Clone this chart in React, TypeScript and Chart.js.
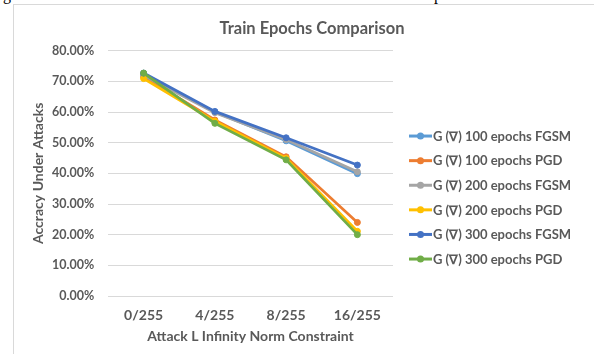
import React, { useEffect, useRef } from "react";
import { Chart, registerables, layouts } from "chart.js";

Chart.register(...registerables);

const categories = ["0/255", "4/255", "8/255", "16/255"];
const seriesLabels = [
  "G (∇) 100 epochs FGSM",
  "G (∇) 100 epochs PGD",
  "G (∇) 200 epochs FGSM",
  "G (∇) 200 epochs PGD",
  "G (∇) 300 epochs FGSM",
  "G (∇) 300 epochs PGD",
];
const seriesColors = ["#5B9BD5", "#ED7D31", "#A5A5A5", "#FFC000", "#4472C4", "#70AD47"];
const g100Fgsm = [72.2, 60.0, 50.6, 39.9];
const g100Pgd = [71.5, 57.4, 45.4, 24.0];
const g200Fgsm = [71.9, 59.8, 51.0, 40.5];
const g200Pgd = [70.9, 57.0, 44.9, 21.1];
const g300Fgsm = [72.7, 60.2, 51.6, 42.7];
const g300Pgd = [72.7, 56.3, 44.4, 20.0];
const seriesValues = [g100Fgsm, g100Pgd, g200Fgsm, g200Pgd, g300Fgsm, g300Pgd];
const yMin = 0;
const yMax = 80;
const yStep = 10;

const TEXT = "#595959";
const FONT = "Lato, 'Liberation Sans', sans-serif";

const excelLegend = {
  id: "excelLegend",
  start(chart: any, _args: any, opts: any) {
    const box: any = {
      position: "right",
      weight: 1000,
      fullSize: false,
      options: { stack: undefined, stackWeight: 1 },
      left: 0,
      top: 0,
      right: 0,
      bottom: 0,
      width: 0,
      height: 0,
      isHorizontal() {
        return false;
      },
      update(_maxWidth: number, maxHeight: number) {
        box.width = opts.boxWidth;
        box.height = maxHeight;
      },
      draw() {},
    };
    layouts.addBox(chart, box);
    chart._excelLegendBox = box;
  },
  stop(chart: any) {
    if (chart._excelLegendBox) layouts.removeBox(chart, chart._excelLegendBox);
  },
  afterDraw(chart: any, _args: any, opts: any) {
    const { ctx, chartArea } = chart;
    const items = chart.data.datasets;
    const n = items.length;
    const cy = (chartArea.top + chartArea.bottom) / 2 + opts.offsetY;
    const x0 = chartArea.right + opts.offsetX;
    ctx.save();
    ctx.font = `bold ${opts.fontSize}px ${FONT}`;
    ctx.textBaseline = "middle";
    ctx.textAlign = "left";
    items.forEach((ds: any, i: number) => {
      const y = cy + (i - (n - 1) / 2) * opts.rowHeight;
      ctx.strokeStyle = ds.borderColor;
      ctx.lineWidth = 3;
      ctx.beginPath();
      ctx.moveTo(x0, y);
      ctx.lineTo(x0 + opts.lineLength, y);
      ctx.stroke();
      ctx.fillStyle = ds.borderColor;
      ctx.beginPath();
      ctx.arc(x0 + opts.lineLength / 2, y, 3.5, 0, Math.PI * 2);
      ctx.fill();
      ctx.fillStyle = TEXT;
      ctx.fillText(ds.label, x0 + opts.lineLength + 1, y + 0.5);
    });
    ctx.restore();
  },
};

export default function App() {
  const canvasRef = useRef<HTMLCanvasElement | null>(null);

  useEffect(() => {
    const canvas = canvasRef.current;
    if (!canvas) return;
    const chart = new Chart(canvas, {
      type: "line",
      data: {
        labels: categories,
        datasets: seriesValues.map((vals, i) => ({
          label: seriesLabels[i],
          data: vals,
          borderColor: seriesColors[i],
          backgroundColor: seriesColors[i],
          pointBackgroundColor: seriesColors[i],
          pointBorderColor: seriesColors[i],
          borderWidth: 2.75,
          pointRadius: 3,
          pointBorderWidth: 1,
          tension: 0,
          fill: false,
          order: seriesValues.length - i,
        })),
      },
      options: {
        animation: false,
        responsive: false,
        devicePixelRatio: 1,
        layout: { padding: { left: 16, right: 0, top: 0, bottom: 9 } },
        plugins: {
          legend: { display: false },
          tooltip: { enabled: false },
          title: {
            display: true,
            text: "Train Epochs Comparison",
            color: TEXT,
            font: { family: FONT, size: 16.5, weight: "bold", lineHeight: 1.2 },
            padding: { top: 13.6, bottom: 12.3 },
          },
          excelLegend: {
            boxWidth: 201,
            offsetX: 16,
            offsetY: 24.2,
            rowHeight: 24.6,
            lineLength: 23,
            fontSize: 13,
          },
        } as any,
        scales: {
          x: {
            grid: { display: false, drawTicks: false },
            border: { display: false },
            offset: true,
            ticks: {
              color: TEXT,
              font: { family: FONT, size: 14, weight: "bold", lineHeight: 1.2 },
              padding: 11,
              maxRotation: 0,
            },
            title: {
              display: true,
              text: "Attack L Infinity Norm Constraint",
              color: TEXT,
              font: { family: FONT, size: 14, weight: "bold", lineHeight: 1.2 },
              padding: { top: 0, bottom: 0 },
            },
            afterFit: (scale: any) => {
              scale.height = 49;
            },
          },
          y: {
            min: yMin,
            max: yMax,
            grid: { color: "#D9D9D9", lineWidth: 1, drawTicks: false },
            border: { display: false },
            ticks: {
              stepSize: yStep,
              color: TEXT,
              font: { family: FONT, size: 12.5, weight: "bold", lineHeight: 1.2 },
              padding: 13.7,
              callback: (v: any) => `${Number(v).toFixed(2)}%`,
            },
            title: {
              display: true,
              text: "Accracy Under Attacks",
              color: TEXT,
              font: { family: FONT, size: 14, weight: "bold", lineHeight: 1.2 },
              padding: { top: 0, bottom: 4 },
            },
            afterFit: (scale: any) => {
              scale.width = 78;
            },
          },
        },
      },
      plugins: [excelLegend],
    });
    return () => chart.destroy();
  }, []);

  return (
    <div
      style={{
        position: "absolute",
        left: 0,
        top: 0,
        width: 594,
        height: 354,
        overflow: "hidden",
        background: "#fff",
      }}
    >
      <div
        style={{
          position: "absolute",
          left: 0,
          top: -15,
          width: 594,
          height: 20,
          fontFamily: "'Liberation Serif', 'DejaVu Serif', serif",
          fontSize: 16,
          lineHeight: "20px",
          color: "#000",
        }}
      >
        <span style={{ position: "absolute", left: 3, top: 0 }}>g</span>
        <span style={{ position: "absolute", left: 434, top: 0 }}>p</span>
      </div>
      <div
        style={{
          position: "absolute",
          left: 13,
          top: 4,
          width: 700,
          height: 400,
          borderLeft: "1px solid #D9D9D9",
          borderTop: "1px solid #D9D9D9",
        }}
      />
      <canvas
        ref={canvasRef}
        width={580}
        height={349}
        style={{ position: "absolute", left: 14, top: 5, width: 580, height: 349 }}
      />
    </div>
  );
}
